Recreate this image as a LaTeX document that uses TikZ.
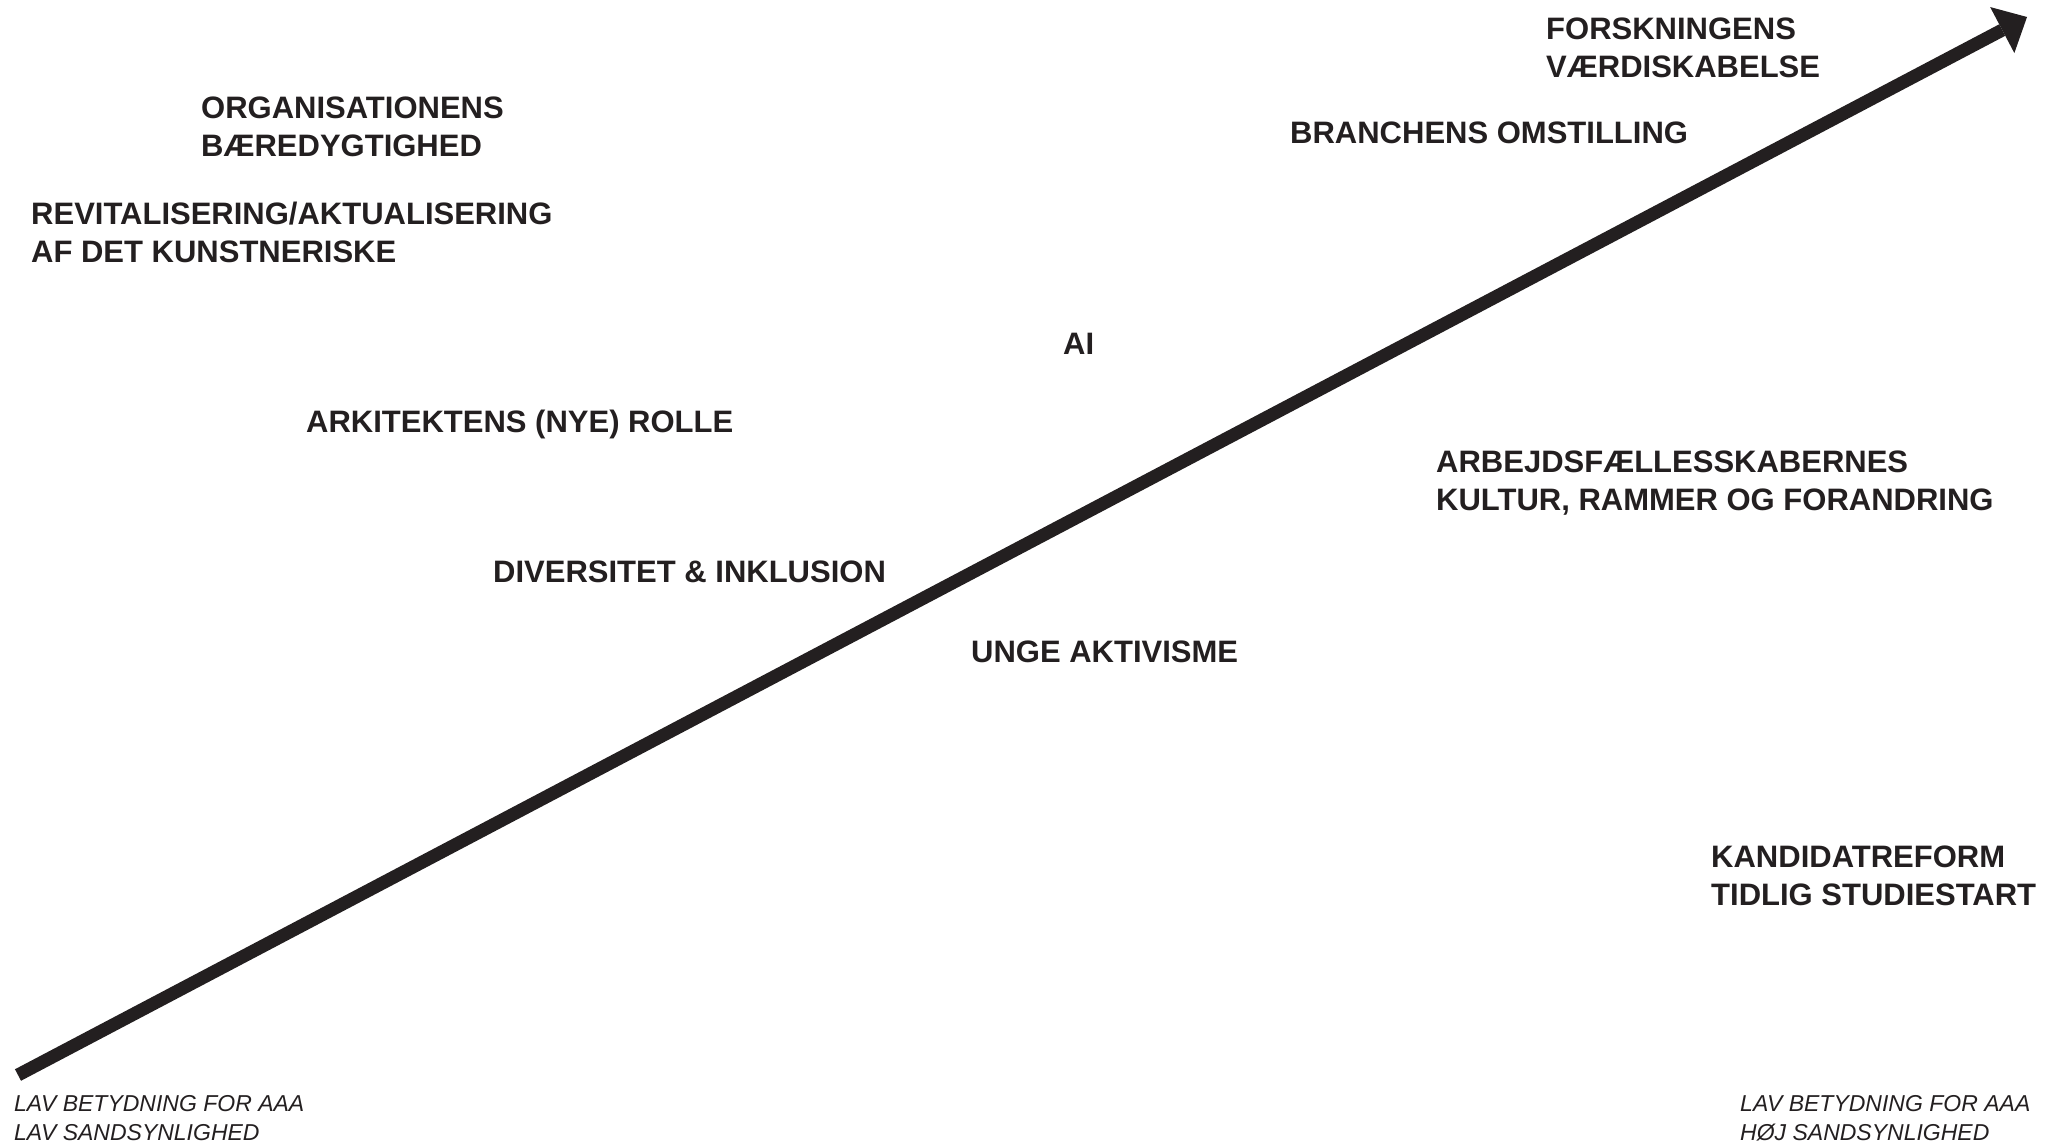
\documentclass[tikz,border=0pt]{standalone}
\usepackage{fontspec}
\setmainfont{Liberation Sans}
\usetikzlibrary{arrows.meta}
\definecolor{ink}{HTML}{231F20}
\tikzset{
  lbl/.style={anchor=base west, inner sep=0pt, align=left, text=ink,
    font=\fontsize{31}{38}\selectfont\bfseries},
  corner/.style={anchor=base west, inner sep=0pt, align=left, text=ink,
    font=\fontsize{23}{29}\selectfont\itshape},
  axis/.style={draw=ink, line width=13pt,
    -{Triangle[length=28pt,width=52pt,line width=0pt]}}
}
\begin{document}
\begin{tikzpicture}[x=1pt,y=-1pt]
\useasboundingbox (0,0) rectangle (2058,1142);
\coordinate (start) at (18,1075);
\coordinate (tip) at (2027,17);
\draw[axis] (start) -- (tip);

% two-line nodes: anchor base = baseline of the last line
\node[lbl] (forsk) at (1546,78) {FORSKNINGENS\\VÆRDISKABELSE};
\node[lbl] (org) at (201,157) {ORGANISATIONENS\\BÆREDYGTIGHED};
\node[lbl] (branche) at (1290,144) {BRANCHENS OMSTILLING};
\node[lbl] (revit) at (31,262) {REVITALISERING/AKTUALISERING\\AF DET KUNSTNERISKE};
\node[lbl] (ai) at (1063,354) {AI};
\node[lbl] (arkitekt) at (306,432) {ARKITEKTENS (NYE) ROLLE};
\node[lbl] (arbejd) at (1436,510) {ARBEJDSFÆLLESSKABERNES\\KULTUR, RAMMER OG FORANDRING};
\node[lbl] (divers) at (493,582) {DIVERSITET \& INKLUSION};
\node[lbl] (unge) at (971,662) {UNGE AKTIVISME};
\node[lbl] (kand) at (1711,905) {KANDIDATREFORM\\TIDLIG STUDIESTART};

\node[corner] (lowlow) at (14,1140) {LAV BETYDNING FOR AAA\\LAV SANDSYNLIGHED};
\node[corner] (lowhigh) at (1740,1140) {LAV BETYDNING FOR AAA\\HØJ SANDSYNLIGHED};
\end{tikzpicture}
\end{document}
